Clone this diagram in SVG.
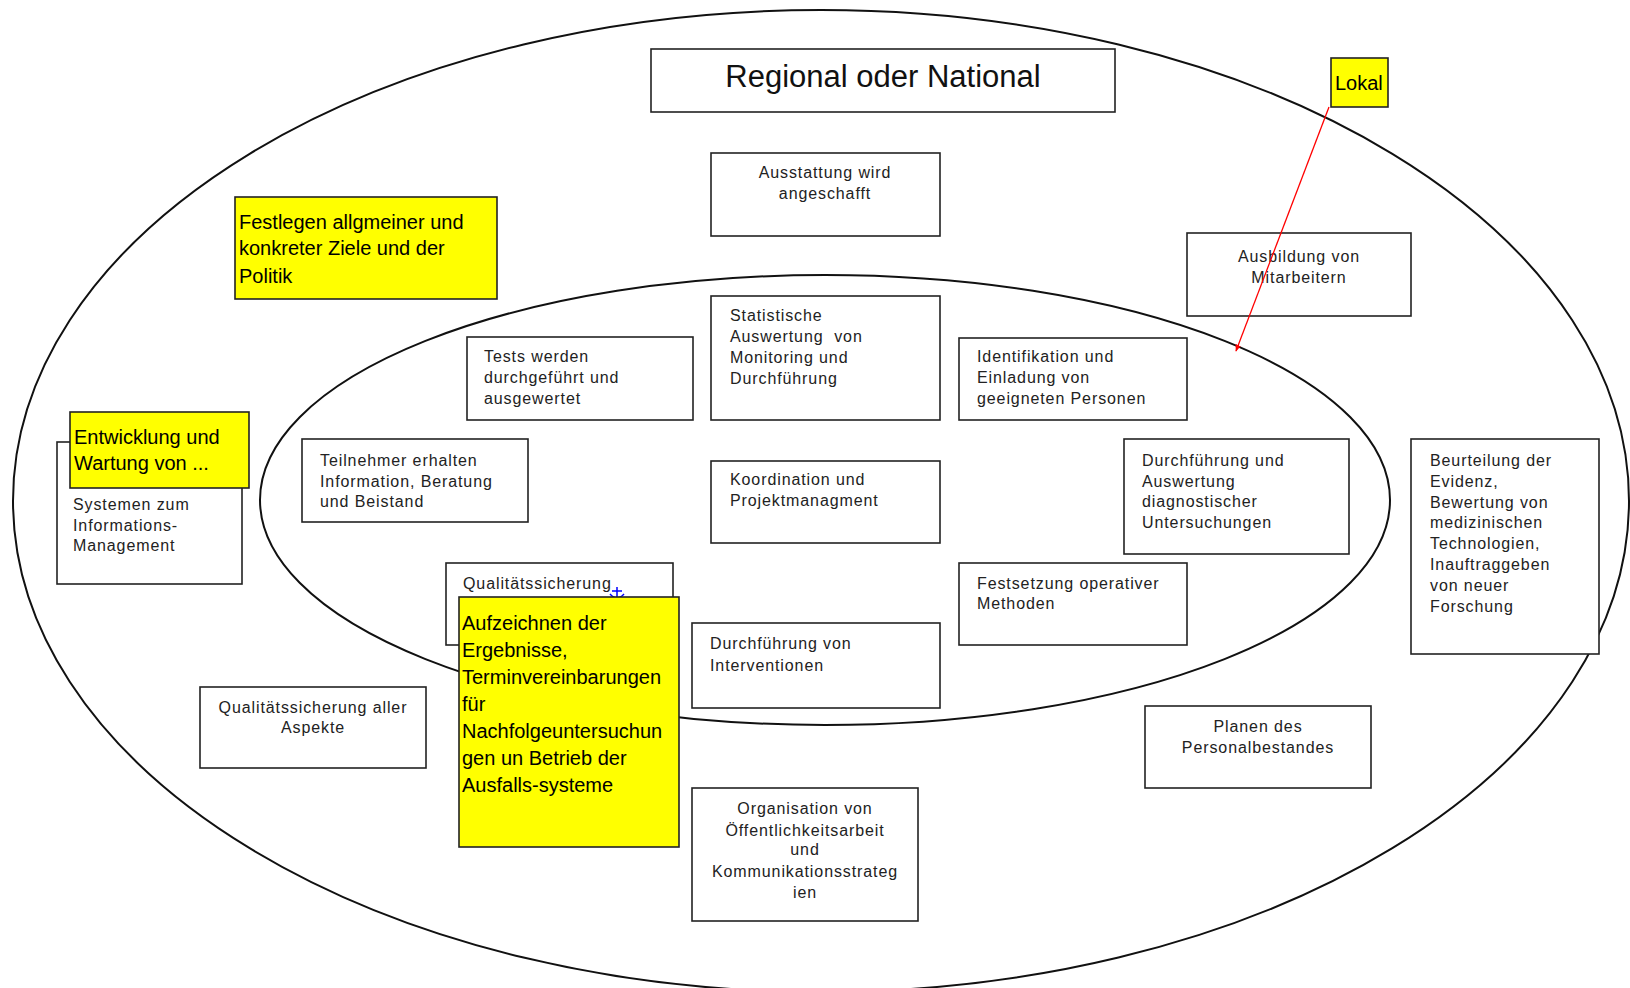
<svg xmlns="http://www.w3.org/2000/svg" width="1630" height="988" viewBox="0 0 1630 988">
<defs>
<style>
.bg{fill:#fff}
.ell{fill:none;stroke:#111;stroke-width:2}
.box{fill:#fff;stroke:#222;stroke-width:1.6}
.ybox{fill:#ffff00;stroke:#222;stroke-width:1.6}
.t{font-family:"Liberation Sans",Arial,sans-serif;font-size:16px;letter-spacing:0.9px;fill:#222}
.c{text-anchor:middle}
.yt{font-family:"Liberation Sans",Arial,sans-serif;font-size:20px;fill:#000}
.title{font-family:"Liberation Sans",Arial,sans-serif;font-size:31px;fill:#111;text-anchor:middle}
.red{stroke:#ff0000;stroke-width:1.3;fill:none}
</style>
<marker id="arr" viewBox="0 0 10 10" refX="9" refY="5" markerWidth="7" markerHeight="7" orient="auto" markerUnits="userSpaceOnUse">
<path d="M0,1 L10,5 L0,9 z" fill="#ff0000"/>
</marker>
</defs>
<rect class="bg" x="0" y="0" width="1630" height="988"/>
<g id="regions">
<ellipse class="ell" cx="821" cy="501" rx="808" ry="491"/>
<ellipse class="ell" cx="825" cy="500" rx="565" ry="225"/>
</g>
<g id="regional">
<rect class="box" x="651" y="49" width="464" height="63"/>
<text class="title" x="883" y="87">Regional oder National</text>
</g>
<g id="ausstattung">
<rect class="box" x="711" y="153" width="229" height="83"/>
<text class="t c" x="825" y="178">Ausstattung wird</text>
<text class="t c" x="825" y="199">angeschafft</text>
</g>
<g id="ausbildung">
<rect class="box" x="1187" y="233" width="224" height="83"/>
<text class="t c" x="1299" y="262">Ausbildung von</text>
<text class="t c" x="1299" y="283">Mitarbeitern</text>
</g>
<g id="lokal">
<rect class="ybox" x="1331" y="58" width="57" height="49"/>
<text class="yt" x="1335" y="90">Lokal</text>
</g>
<g id="festlegen">
<rect class="ybox" x="235" y="197" width="262" height="102"/>
<text class="yt" x="239" y="229">Festlegen allgmeiner und</text>
<text class="yt" x="239" y="255">konkreter Ziele und der</text>
<text class="yt" x="239" y="283">Politik</text>
</g>
<g id="tests">
<rect class="box" x="467" y="337" width="226" height="83"/>
<text class="t" x="484" y="362">Tests werden</text>
<text class="t" x="484" y="383">durchgeführt und</text>
<text class="t" x="484" y="404">ausgewertet</text>
</g>
<g id="statistische">
<rect class="box" x="711" y="296" width="229" height="124"/>
<text class="t" x="730" y="321">Statistische</text>
<text class="t" x="730" y="342" xml:space="preserve">Auswertung  von</text>
<text class="t" x="730" y="363">Monitoring und</text>
<text class="t" x="730" y="384">Durchführung</text>
</g>
<g id="identifikation">
<rect class="box" x="959" y="338" width="228" height="82"/>
<text class="t" x="977" y="362">Identifikation und</text>
<text class="t" x="977" y="383">Einladung von</text>
<text class="t" x="977" y="404">geeigneten Personen</text>
</g>
<g id="teilnehmer">
<rect class="box" x="302" y="439" width="226" height="83"/>
<text class="t" x="320" y="466">Teilnehmer erhalten</text>
<text class="t" x="320" y="487">Information, Beratung</text>
<text class="t" x="320" y="507">und Beistand</text>
</g>
<g id="koordination">
<rect class="box" x="711" y="461" width="229" height="82"/>
<text class="t" x="730" y="485">Koordination und</text>
<text class="t" x="730" y="506">Projektmanagment</text>
</g>
<g id="systeme">
<rect class="box" x="57" y="442" width="185" height="142"/>
<text class="t" x="73" y="510">Systemen zum</text>
<text class="t" x="73" y="531">Informations-</text>
<text class="t" x="73" y="551">Management</text>
</g>
<g id="entwicklung">
<rect class="ybox" x="70" y="412" width="179" height="76"/>
<text class="yt" x="74" y="444">Entwicklung und</text>
<text class="yt" x="74" y="470">Wartung von ...</text>
</g>
<g id="diagnostik">
<rect class="box" x="1124" y="439" width="225" height="115"/>
<text class="t" x="1142" y="466">Durchführung und</text>
<text class="t" x="1142" y="487">Auswertung</text>
<text class="t" x="1142" y="507">diagnostischer</text>
<text class="t" x="1142" y="528">Untersuchungen</text>
</g>
<g id="beurteilung">
<rect class="box" x="1411" y="439" width="188" height="215"/>
<text class="t" x="1430" y="466">Beurteilung der</text>
<text class="t" x="1430" y="487">Evidenz,</text>
<text class="t" x="1430" y="508">Bewertung von</text>
<text class="t" x="1430" y="528">medizinischen</text>
<text class="t" x="1430" y="549">Technologien,</text>
<text class="t" x="1430" y="570">Inauftraggeben</text>
<text class="t" x="1430" y="591">von neuer</text>
<text class="t" x="1430" y="612">Forschung</text>
</g>
<g id="qualitaet">
<rect class="box" x="446" y="563" width="227" height="82"/>
<text class="t" x="463" y="589">Qualitätssicherung</text>
<path d="M617,587 V598 M612,591 H622 M610,594 Q617,602 624,594" stroke="#0000ff" stroke-width="1.5" fill="none"/>
</g>
<g id="aufzeichnen">
<rect class="ybox" x="459" y="597" width="220" height="250"/>
<text class="yt" x="462" y="630">Aufzeichnen der</text>
<text class="yt" x="462" y="657">Ergebnisse,</text>
<text class="yt" x="462" y="684">Terminvereinbarungen</text>
<text class="yt" x="462" y="711">für</text>
<text class="yt" x="462" y="738">Nachfolgeuntersuchun</text>
<text class="yt" x="462" y="765">gen un Betrieb der</text>
<text class="yt" x="462" y="792">Ausfalls-systeme</text>
</g>
<g id="interventionen">
<rect class="box" x="692" y="623" width="248" height="85"/>
<text class="t" x="710" y="649">Durchführung von</text>
<text class="t" x="710" y="671">Interventionen</text>
</g>
<g id="festsetzung">
<rect class="box" x="959" y="563" width="228" height="82"/>
<text class="t" x="977" y="589">Festsetzung operativer</text>
<text class="t" x="977" y="609">Methoden</text>
</g>
<g id="qualitaet-aller">
<rect class="box" x="200" y="687" width="226" height="81"/>
<text class="t c" x="313" y="713">Qualitätssicherung aller</text>
<text class="t c" x="313" y="733">Aspekte</text>
</g>
<g id="planen">
<rect class="box" x="1145" y="706" width="226" height="82"/>
<text class="t c" x="1258" y="732">Planen des</text>
<text class="t c" x="1258" y="753">Personalbestandes</text>
</g>
<g id="organisation">
<rect class="box" x="692" y="788" width="226" height="133"/>
<text class="t c" x="805" y="814">Organisation von</text>
<text class="t c" x="805" y="836">Öffentlichkeitsarbeit</text>
<text class="t c" x="805" y="855">und</text>
<text class="t c" x="805" y="877">Kommunikationsstrateg</text>
<text class="t c" x="805" y="898">ien</text>
</g>
<g id="connectors">
<line class="red" x1="1329" y1="107" x2="1236" y2="351" marker-end="url(#arr)"/>
</g>
</svg>
